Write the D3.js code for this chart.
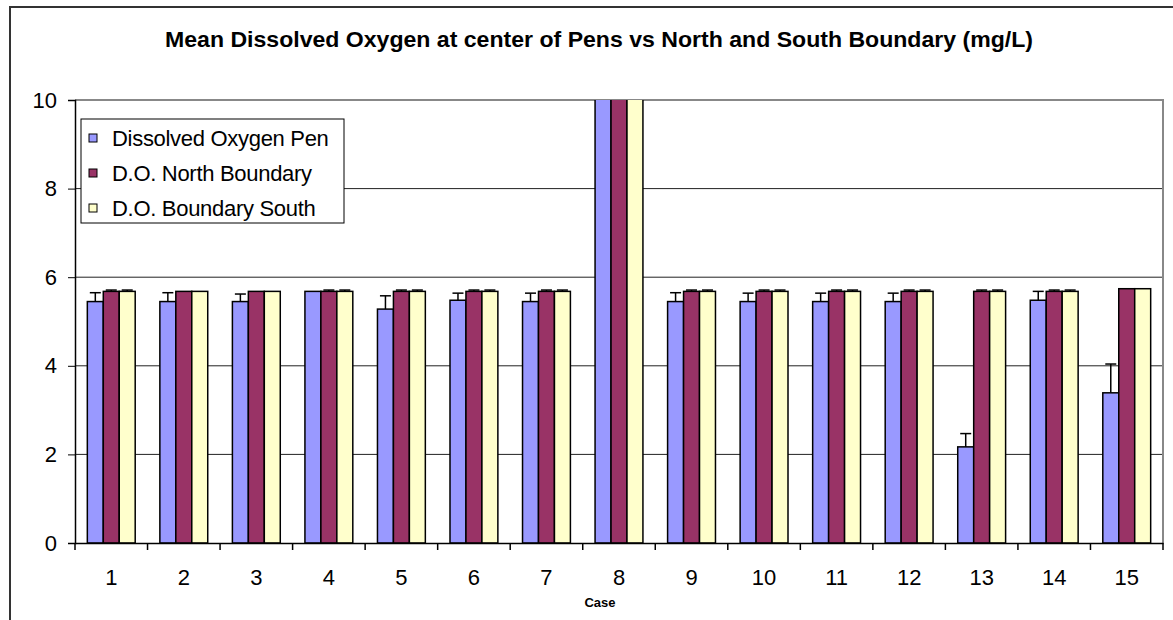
<!DOCTYPE html>
<html>
<head>
<meta charset="utf-8">
<script src="https://cdn.jsdelivr.net/npm/d3@7"></script>
<style>
  body { margin: 0; background: #fff; }
  text { font-family: Arial, "Liberation Sans", sans-serif; }
</style>
</head>
<body>
<div id="chart"></div>
<script>
// chart data
var cases = ["1","2","3","4","5","6","7","8","9","10","11","12","13","14","15"];
var seriesNames = ["Dissolved Oxygen Pen", "D.O. North Boundary", "D.O. Boundary South"];
var penValues   = [5.45, 5.45, 5.45, 5.68, 5.28, 5.48, 5.45, 12, 5.45, 5.45, 5.45, 5.45, 2.17, 5.48, 3.39];
var northValues = [5.68, 5.68, 5.68, 5.68, 5.68, 5.68, 5.68, 12, 5.68, 5.68, 5.68, 5.68, 5.68, 5.68, 5.74];
var southValues = [5.68, 5.68, 5.68, 5.68, 5.68, 5.68, 5.68, 12, 5.68, 5.68, 5.68, 5.68, 5.68, 5.68, 5.74];
var penErr      = [0.2, 0.2, 0.17, 0, 0.3, 0.16, 0.19, 0, 0.2, 0.19, 0.19, 0.19, 0.3, 0.2, 0.65];
var northErr    = [0.03, 0, 0, 0.03, 0.03, 0.03, 0.03, 0, 0.03, 0.03, 0.03, 0.03, 0.03, 0.03, 0];
var southErr    = [0.03, 0, 0, 0.03, 0.03, 0.03, 0.03, 0, 0.03, 0.03, 0.03, 0.03, 0.03, 0.03, 0];
var yTicks = [0, 2, 4, 6, 8, 10];

var colors = ["#9999ff", "#993366", "#ffffcc"];

var svgWidth = 1173;
var svgHeight = 620;
var margin = { top: 100, right: 10, bottom: 77, left: 75 };
var width = svgWidth - margin.left - margin.right;
var height = svgHeight - margin.top - margin.bottom;

var svg = d3.select("#chart")
  .append("svg")
  .attr("width", svgWidth)
  .attr("height", svgHeight);

// outer chart frame (runs off the right / bottom edge)
svg.append("rect")
  .attr("x", 10).attr("y", 7)
  .attr("width", 1300).attr("height", 800)
  .attr("fill", "none")
  .attr("stroke", "#333")
  .attr("stroke-width", 2);

svg.append("text")
  .attr("x", 599)
  .attr("y", 47)
  .attr("text-anchor", "middle")
  .attr("font-size", "22px")
  .attr("font-weight", "bold")
  .attr("textLength", 868)
  .attr("lengthAdjust", "spacingAndGlyphs")
  .text("Mean Dissolved Oxygen at center of Pens vs North and South Boundary (mg/L)");

var chartGroup = svg.append("g")
  .attr("transform", `translate(${margin.left}, ${margin.top})`);

var x0 = d3.scaleBand()
  .domain(cases)
  .range([0, width])
  .paddingInner(0.34)
  .paddingOuter(0.17);

var x1 = d3.scaleBand()
  .domain(d3.range(3))
  .range([0, x0.bandwidth()]);

var y = d3.scaleLinear()
  .domain([0, 10])
  .range([height, 0]);

// gridlines
chartGroup.append("g")
  .selectAll("line")
  .data(yTicks.filter(d => d > 0 && d < 10))
  .enter()
  .append("line")
  .attr("x1", 0).attr("x2", width)
  .attr("y1", d => y(d)).attr("y2", d => y(d))
  .attr("stroke", "#222")
  .attr("stroke-width", 1);

// plot area frame (top and right in gray)
chartGroup.append("path")
  .attr("d", `M0,${y(10)}H${width}V${height}`)
  .attr("fill", "none")
  .attr("stroke", "#888")
  .attr("stroke-width", 2);

var table = cases.map(function(c, i) {
  return {
    cat: c,
    vals: [
      { s: 0, v: penValues[i], e: penErr[i] },
      { s: 1, v: northValues[i], e: northErr[i] },
      { s: 2, v: southValues[i], e: southErr[i] }
    ]
  };
});

svg.append("defs").append("clipPath")
  .attr("id", "plotclip")
  .append("rect")
  .attr("x", 0).attr("y", 0)
  .attr("width", width).attr("height", height);

var groups = chartGroup.append("g")
  .attr("clip-path", "url(#plotclip)")
  .selectAll("g")
  .data(table)
  .enter()
  .append("g")
  .attr("transform", d => `translate(${x0(d.cat)},0)`);

groups.selectAll("rect")
  .data(d => d.vals)
  .enter()
  .append("rect")
  .attr("x", d => x1(d.s))
  .attr("y", d => y(d.v))
  .attr("width", x1.bandwidth())
  .attr("height", d => height - y(d.v))
  .attr("fill", d => colors[d.s])
  .attr("stroke", "#000")
  .attr("stroke-width", 1.5);

// error bars (plus direction with cap)
var errs = groups.selectAll("g.err")
  .data(d => d.vals.filter(v => v.e > 0))
  .enter()
  .append("g")
  .attr("class", "err");

errs.append("line")
  .attr("x1", d => x1(d.s) + x1.bandwidth() / 2)
  .attr("x2", d => x1(d.s) + x1.bandwidth() / 2)
  .attr("y1", d => y(d.v))
  .attr("y2", d => y(d.v + d.e))
  .attr("stroke", "#000")
  .attr("stroke-width", 1.5);

errs.append("line")
  .attr("x1", d => x1(d.s) + x1.bandwidth() / 2 - 5.5)
  .attr("x2", d => x1(d.s) + x1.bandwidth() / 2 + 5.5)
  .attr("y1", d => y(d.v + d.e))
  .attr("y2", d => y(d.v + d.e))
  .attr("stroke", "#000")
  .attr("stroke-width", 1.5);

// axes
var leftAxis = d3.axisLeft(y)
  .tickValues(yTicks)
  .tickSize(7)
  .tickPadding(11)
  .tickFormat(d3.format("d"));

var yAxisG = chartGroup.append("g")
  .call(leftAxis);
yAxisG.select(".domain").attr("stroke", "#000").attr("stroke-width", 1.5);
yAxisG.selectAll("text").attr("font-size", "22px").attr("fill", "#000")
  .attr("font-family", "Arial, 'Liberation Sans', sans-serif");

var bottomAxis = d3.axisBottom(x0)
  .tickSize(0)
  .tickPadding(26);

var xAxisG = chartGroup.append("g")
  .attr("transform", `translate(0, ${height})`)
  .call(bottomAxis);
xAxisG.select(".domain").attr("stroke", "#000").attr("stroke-width", 1.5);
xAxisG.selectAll("text").attr("font-size", "22px").attr("fill", "#000")
  .attr("font-family", "Arial, 'Liberation Sans', sans-serif");

// category divider ticks
xAxisG.selectAll("line.divider")
  .data(d3.range(cases.length + 1))
  .enter()
  .append("line")
  .attr("class", "divider")
  .attr("x1", i => i * x0.step())
  .attr("x2", i => i * x0.step())
  .attr("y1", 0).attr("y2", 7)
  .attr("stroke", "#000")
  .attr("stroke-width", 1.5);

chartGroup.append("text")
  .attr("x", width / 2 - 19)
  .attr("y", height + 64)
  .attr("text-anchor", "middle")
  .attr("font-size", "13px")
  .attr("font-weight", "bold")
  .text("Case");

// legend
var legend = svg.append("g")
  .attr("transform", "translate(81, 119)");

legend.append("rect")
  .attr("width", 263).attr("height", 104)
  .attr("fill", "#fff")
  .attr("stroke", "#000")
  .attr("stroke-width", 1);

var items = legend.selectAll("g.item")
  .data(seriesNames)
  .enter()
  .append("g")
  .attr("class", "item")
  .attr("transform", (d, i) => `translate(8, ${19 + i * 35})`);

items.append("rect")
  .attr("x", 0).attr("y", -4)
  .attr("width", 8).attr("height", 8)
  .attr("fill", (d, i) => colors[i])
  .attr("stroke", "#000")
  .attr("stroke-width", 1);

items.append("text")
  .attr("x", 23)
  .attr("y", 8)
  .attr("font-size", "22px")
  .attr("letter-spacing", "-0.3px")
  .text(d => d);
</script>
</body>
</html>
